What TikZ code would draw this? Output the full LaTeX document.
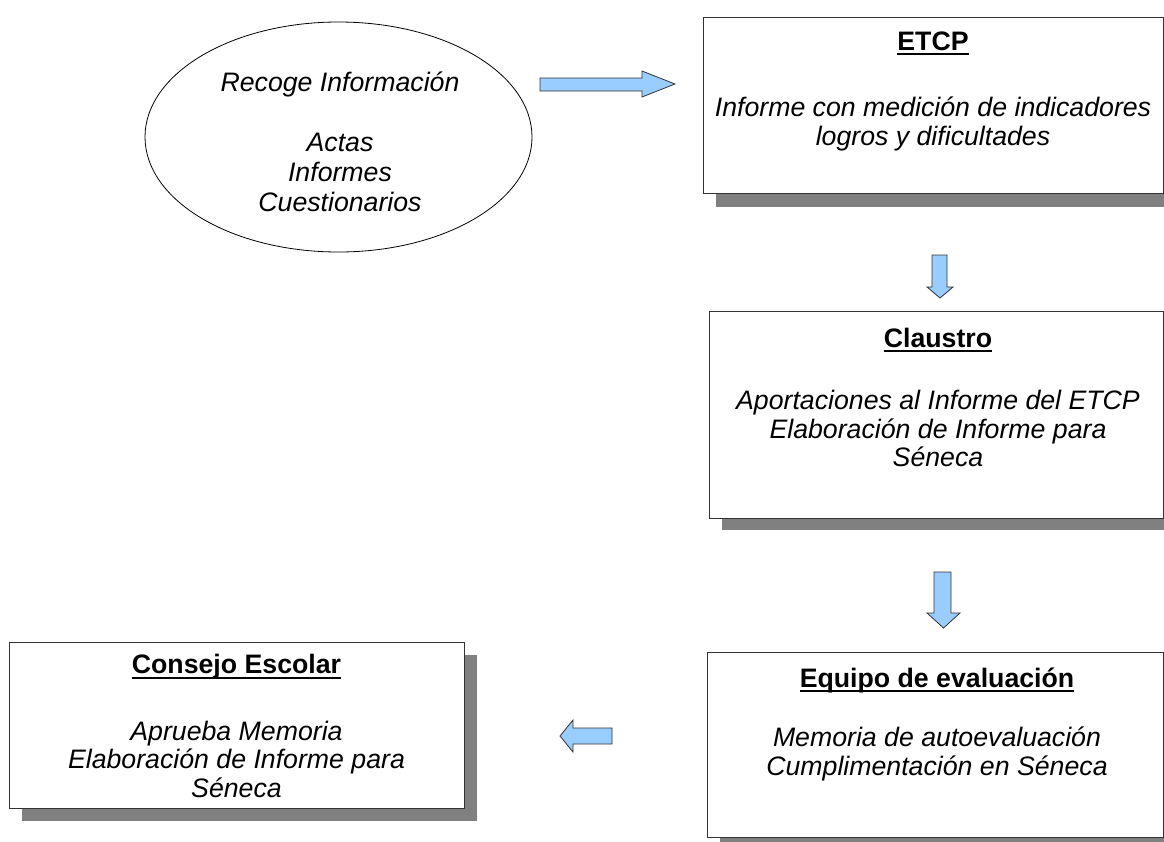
\documentclass[tikz,border=0pt]{standalone}
\usepackage{fontspec}
\setmainfont{Liberation Sans}
\usetikzlibrary{shapes.geometric}
\newcommand\ulbar[1]{\setbox0\hbox{#1}\rlap{\rule[-4.6pt]{\wd0}{1.8pt}}\box0}
\definecolor{arrowblue}{HTML}{99CCFF}
\definecolor{shadowgrey}{HTML}{808080}
\definecolor{boxline}{HTML}{333333}
\tikzset{
  x=1pt, y=-1pt,
  boxnode/.style={draw=boxline, line width=1.3pt, fill=white, inner sep=0pt, anchor=north west},
  shadownode/.style={fill=shadowgrey, draw=none, inner sep=0pt, anchor=north west},
  titletext/.style={font=\fontsize{26.7}{28.5}\selectfont\bfseries, inner sep=0pt},
  bodytext/.style={font=\fontsize{26.7}{28.5}\selectfont\itshape, align=center, inner sep=0pt},
  blockarrow/.style={fill=arrowblue, draw=black!80, line width=0.8pt, line join=miter},
}
\begin{document}
\begin{tikzpicture}
\clip (0,0) rectangle (1164,841);
\fill[white] (0,0) rectangle (1164,841);

% Ellipse
\node[draw=black, line width=0.8pt, ellipse, minimum width=387pt, minimum height=230pt, inner sep=0pt] (recoge) at (338.5,137) {};
\node[bodytext, font=\fontsize{26.7}{30}\selectfont\itshape] (recogetxt) at (340,142) {Recoge Información\\[30pt]Actas\\Informes\\Cuestionarios};

% ETCP
\node[shadownode, minimum width=460pt, minimum height=176pt] (etcpsh) at (716,31) {};
\node[boxnode, minimum width=460pt, minimum height=176pt] (etcp) at (703,17) {};
\node[titletext] (etcpt) at (933,43) {\ulbar{ETCP}};
\node[bodytext] (etcpb) at (933,124) {Informe con medición de indicadores\\logros y dificultades};

% Claustro
\node[shadownode, minimum width=454pt, minimum height=207pt] (clsh) at (722,323) {};
\node[boxnode, minimum width=454pt, minimum height=207pt] (claustro) at (709,311) {};
\node[titletext] (clt) at (938,340) {\ulbar{Claustro}};
\node[bodytext] (clb) at (938,428.5) {Aportaciones al Informe del ETCP\\Elaboración de Informe para\\Séneca};

% Equipo
\node[shadownode, minimum width=456pt, minimum height=185pt] (eqsh) at (720,665) {};
\node[boxnode, minimum width=456pt, minimum height=185pt] (equipo) at (707,652) {};
\node[titletext] (eqt) at (937,680) {\ulbar{Equipo de evaluación}};
\node[bodytext] (eqb) at (937,754) {Memoria de autoevaluación\\Cumplimentación en Séneca};

% Consejo
\node[shadownode, minimum width=455pt, minimum height=166pt] (cosh) at (22,655) {};
\node[boxnode, minimum width=455pt, minimum height=166pt] (consejo) at (9,642) {};
\node[titletext] (cot) at (236.5,667) {\ulbar{Consejo Escolar}};
\node[bodytext] (cob) at (236.5,759) {Aprueba Memoria\\Elaboración de Informe para\\Séneca};

% Block arrows
\draw[blockarrow] (540,78) -- (642,78) -- (642,71) -- (675,84) -- (642,97) -- (642,91) -- (540,91) -- cycle;
\draw[blockarrow] (932,255) -- (947,255) -- (947,287) -- (953,287) -- (940,298) -- (927,287) -- (932,287) -- cycle;
\draw[blockarrow] (934,572) -- (951,572) -- (951,613) -- (960,613) -- (943.5,628) -- (927,613) -- (934,613) -- cycle;
\draw[blockarrow] (612,728) -- (573,728) -- (573,720) -- (560,736) -- (573,752) -- (573,744) -- (612,744) -- cycle;
\end{tikzpicture}
\end{document}
